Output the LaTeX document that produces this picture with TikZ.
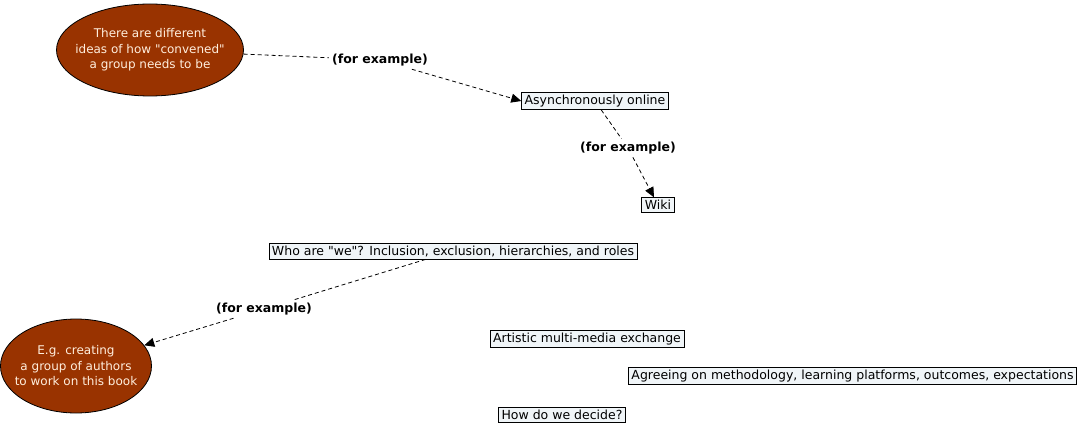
\documentclass[tikz,border=0pt]{standalone}
\usepackage{fontspec}
\setmainfont{DejaVu Sans}
\usetikzlibrary{arrows.meta,shapes.geometric}
\definecolor{ideafill}{RGB}{153,51,0}
\definecolor{ideatext}{RGB}{255,238,221}
\definecolor{conceptfill}{RGB}{240,245,248}

\begin{document}
\begin{tikzpicture}[x=1pt,y=-1pt,>={Triangle[length=10pt,width=9pt]},
    idea/.style={ellipse,draw,line width=0.8pt,fill=ideafill,text=ideatext,
      align=center,inner xsep=-9pt,inner ysep=0pt,
      font=\fontsize{12}{15.5}\selectfont},
    concept/.style={draw,line width=0.8pt,fill=conceptfill,inner xsep=3pt,
      inner ysep=2.5pt,font=\fontsize{12.5}{14}\selectfont},
    linkname/.style={inner sep=3pt,font=\bfseries\fontsize{12.5}{14}\selectfont},
    linkline/.style={line width=0.8pt,dash pattern=on 4pt off 3pt}]
    \useasboundingbox (0,0) rectangle (1080,428);

    \node[idea,minimum width=187pt,minimum height=92pt] (convened) at (150,50)
      {There are different\\ideas of how \textquotedbl convened\textquotedbl\\a group needs to be};
    \node[concept] (async) at (595,101) {Asynchronously online};
    \node[concept] (wiki) at (658,205) {Wiki};
    \node[concept] (who) at (453,251)
      {Who are \textquotedbl we\textquotedbl? Inclusion, exclusion, hierarchies, and roles};
    \node[idea,minimum width=151pt,minimum height=94pt] (authors) at (76,366)
      {E.g. creating\\a group of authors\\to work on this book};
    \node[concept] (artistic) at (587,339) {Artistic multi-media exchange};
    \node[concept,anchor=east] (agreeing) at (1077,376)
      {Agreeing on methodology, learning platforms, outcomes, expectations};
    \node[concept] (decide) at (562,415) {How do we decide?};

    \node[linkname] (ex1) at (380,60) {(for example)};
    \node[linkname] (ex2) at (628,148) {(for example)};
    \node[linkname] (ex3) at (264,309) {(for example)};

    \path[linkline]
    (convened) edge (ex1)
    (ex1) edge[->] (async.west)

    (async) edge (ex2)
    (ex2) edge[->] (wiki)

    (who) edge (ex3)
    (ex3) edge[->] (authors)
    ;
\end{tikzpicture}
\end{document}
